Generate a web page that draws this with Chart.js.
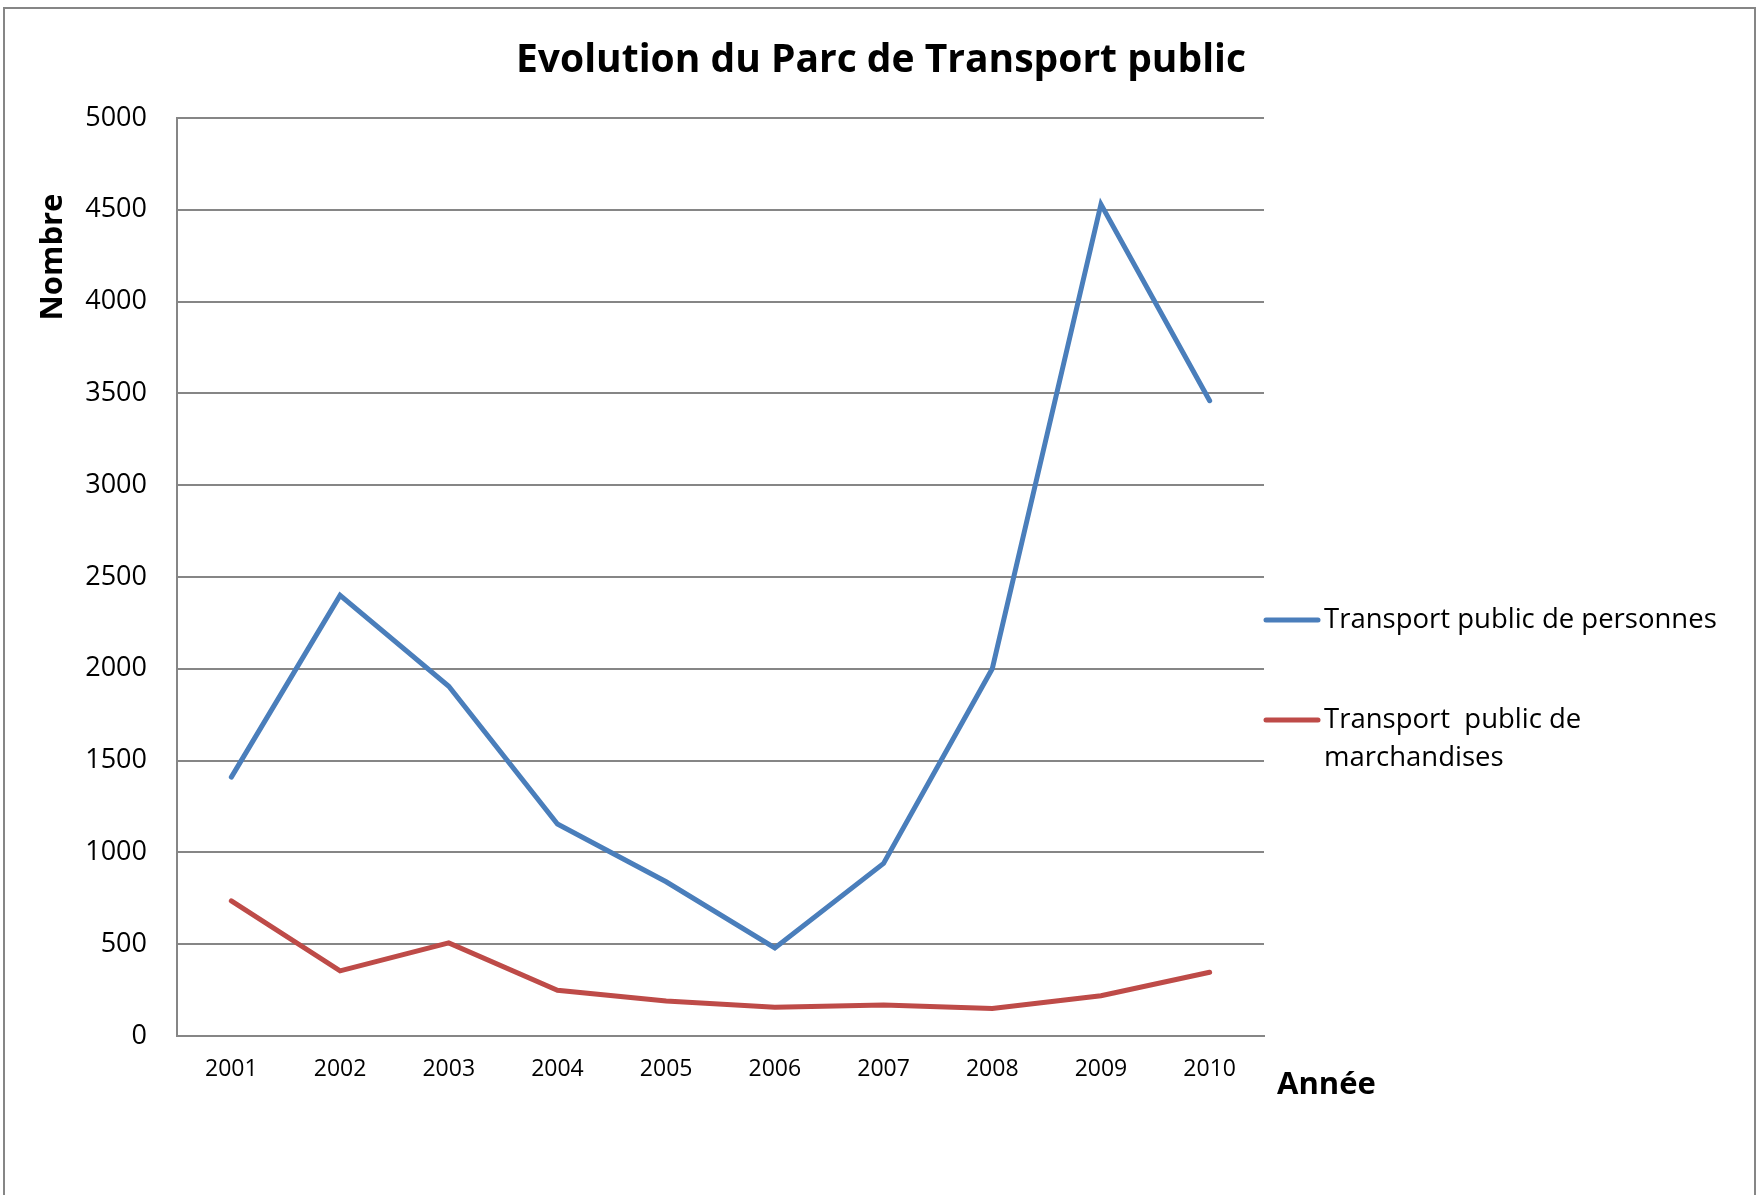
<!DOCTYPE html>
<html>
<head>
<meta charset="utf-8">
<script src="https://cdn.jsdelivr.net/npm/chart.js@4/dist/chart.umd.min.js"></script>
<style>
  body { margin: 0; background: #fff; }
</style>
</head>
<body>
<canvas id="parc" width="1759" height="1195"></canvas>
<script>
// values
var annees = ['2001', '2002', '2003', '2004', '2005', '2006', '2007', '2008', '2009', '2010'];
var personnes = [1410, 2400, 1905, 1155, 840, 480, 940, 2000, 4530, 3460];
var marchandises = [736, 355, 507, 249, 191, 156, 169, 150, 219, 347];
var yTicks = [0, 500, 1000, 1500, 2000, 2500, 3000, 3500, 4000, 4500, 5000];

var legendLabels = [['Transport public de personnes'], ['Transport  public de', 'marchandises']];

var FONT = '"Open Sans", "Liberation Sans", sans-serif';

// title, axis names, legend and the frame, placed like the Excel chart
var decor = {
    id: 'decor',
    afterDraw: function (chart) {
        var ctx = chart.ctx;
        var area = chart.chartArea;
        ctx.save();

        ctx.strokeStyle = '#868686';
        ctx.lineWidth = 2;
        ctx.strokeRect(4, 8, 1751, 1220);

        ctx.fillStyle = '#000';
        ctx.textBaseline = 'middle';
        ctx.textAlign = 'center';
        ctx.font = 'bold 39px ' + FONT;
        ctx.fillText('Evolution du Parc de Transport public', 881, 61);

        ctx.font = 'bold 31px ' + FONT;
        ctx.textAlign = 'left';
        ctx.fillText('Année', 1277, 1085);

        ctx.save();
        ctx.translate(53, 257);
        ctx.rotate(-Math.PI / 2);
        ctx.textAlign = 'center';
        ctx.fillText('Nombre', 0, 0);
        ctx.restore();

        // legend
        ctx.font = '27.5px ' + FONT;
        var rows = [620, 720];
        chart.data.datasets.forEach(function (ds, i) {
            ctx.strokeStyle = ds.borderColor;
            ctx.lineWidth = 5;
            ctx.lineCap = 'round';
            ctx.beginPath();
            ctx.moveTo(area.right + 2, rows[i]);
            ctx.lineTo(area.right + 54, rows[i]);
            ctx.stroke();
            legendLabels[i].forEach(function (t, j) {
                ctx.fillText(t, area.right + 60, rows[i] + j * 38);
            });
        });
        ctx.restore();
    }
};

new Chart(document.getElementById('parc'), {
    type: 'line',
    data: {
        labels: annees,
        datasets: [{
            label: 'Transport public de personnes',
            data: personnes,
            borderColor: '#4a7ebb',
            borderWidth: 5,
            borderCapStyle: 'round',
            pointRadius: 0,
            tension: 0
        }, {
            label: 'Transport public de marchandises',
            data: marchandises,
            borderColor: '#be4b48',
            borderWidth: 5,
            borderCapStyle: 'round',
            pointRadius: 0,
            tension: 0
        }]
    },
    options: {
        responsive: false,
        animation: false,
        layout: { padding: { left: 0, top: 118, right: 495, bottom: 0 } },
        plugins: {
            legend: { display: false },
            title: { display: false },
            tooltip: { enabled: false }
        },
        scales: {
            x: {
                offset: true,
                grid: { display: false, drawTicks: false },
                border: { display: true, color: '#868686', width: 2 },
                ticks: { color: '#000', font: { family: FONT, size: 23 }, padding: 20, maxRotation: 0 },
                afterFit: function (scale) { scale.height = 159; }
            },
            y: {
                min: 0,
                max: 5000,
                afterBuildTicks: function (scale) {
                    scale.ticks = yTicks.map(function (v) { return { value: v }; });
                },
                grid: { color: '#868686', lineWidth: 2, drawTicks: false },
                border: { display: true, color: '#868686', width: 2 },
                ticks: {
                    color: '#000',
                    font: { family: FONT, size: 27 },
                    padding: 30,
                    callback: function (v) { return String(v); }
                },
                afterFit: function (scale) { scale.width = 177; }
            }
        }
    },
    plugins: [decor]
});
</script>
</body>
</html>
